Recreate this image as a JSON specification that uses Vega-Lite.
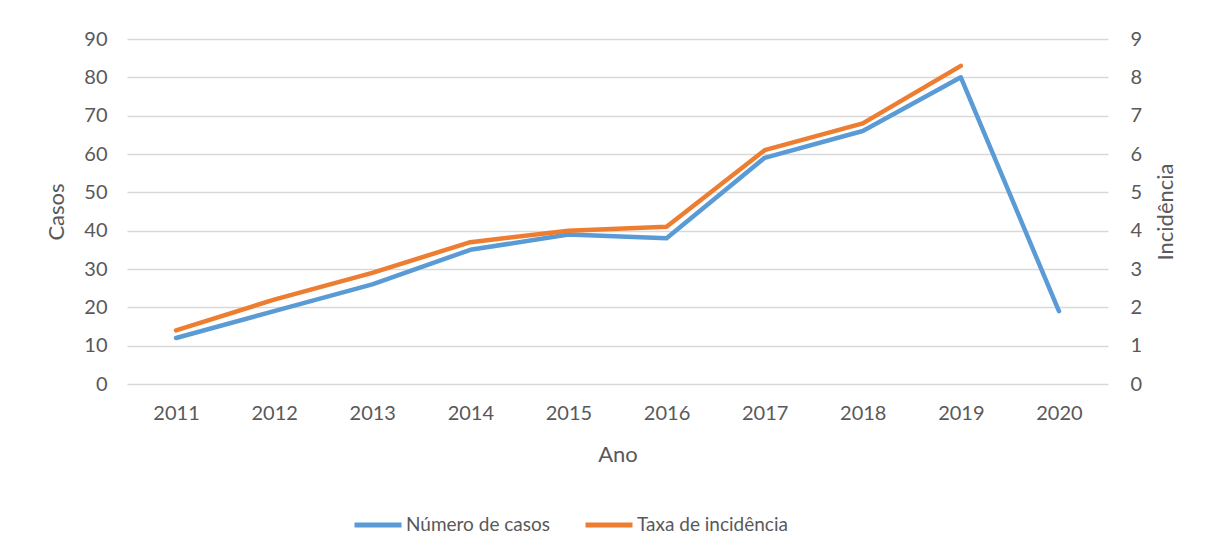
{
  "$schema": "https://vega.github.io/schema/vega-lite/v6.json",
  "width": 981,
  "height": 345,
  "autosize": "none",
  "padding": {"left": 127, "top": 39, "right": 97, "bottom": 173},
  "background": "white",
  "config": {
    "font": "Lato",
    "view": {"stroke": null},
    "axis": {"labelColor": "#595959", "titleColor": "#595959", "labelFont": "Lato", "titleFont": "Lato", "titleFontWeight": "normal"}
  },
  "data": {
    "values": [
      {"ano": "2011", "casos": 12, "taxa": 1.4},
      {"ano": "2012", "casos": 19, "taxa": 2.2},
      {"ano": "2013", "casos": 26, "taxa": 2.9},
      {"ano": "2014", "casos": 35, "taxa": 3.7},
      {"ano": "2015", "casos": 39, "taxa": 4.0},
      {"ano": "2016", "casos": 38, "taxa": 4.1},
      {"ano": "2017", "casos": 59, "taxa": 6.1},
      {"ano": "2018", "casos": 66, "taxa": 6.8},
      {"ano": "2019", "casos": 80, "taxa": 8.3},
      {"ano": "2020", "casos": 19, "taxa": null}
    ]
  },
  "encoding": {
    "x": {
      "field": "ano", "type": "ordinal", "title": "Ano",
      "scale": {"type": "point", "padding": 0.5},
      "axis": {"labelAngle": 0, "domain": false, "ticks": false, "grid": false, "labelFontSize": 20, "titleFontSize": 22, "labelPadding": 19, "titlePadding": 21}
    }
  },
  "layer": [
    {
      "mark": {"type": "line", "strokeWidth": 4.5, "strokeCap": "round", "strokeJoin": "round"},
      "encoding": {
        "y": {
          "field": "casos", "type": "quantitative", "title": "Casos",
          "scale": {"domain": [0, 90]},
          "axis": {"values": [0,10,20,30,40,50,60,70,80,90], "domain": false, "ticks": false, "gridColor": "#d9d9d9", "gridWidth": 1.4, "labelFontSize": 20, "titleFontSize": 22, "labelPadding": 20, "titlePadding": 15}
        },
        "color": {
          "datum": "Número de casos", "type": "nominal",
          "scale": {"domain": ["Número de casos", "Taxa de incidência"], "range": ["#5B9BD5", "#ED7D31"]},
          "legend": {"title": null, "orient": "none", "direction": "horizontal", "legendX": 225, "legendY": 460, "symbolType": "stroke", "symbolSize": 2209, "symbolStrokeWidth": 5, "labelFontSize": 19, "labelColor": "#595959", "labelFont": "Lato", "labelOffset": 2, "columnPadding": 24}
        }
      }
    },
    {
      "mark": {"type": "line", "strokeWidth": 4.5, "strokeCap": "round", "strokeJoin": "round"},
      "encoding": {
        "y": {
          "field": "taxa", "type": "quantitative", "title": "Incidência",
          "scale": {"domain": [0, 9]},
          "axis": {"orient": "right", "values": [0,1,2,3,4,5,6,7,8,9], "domain": false, "ticks": false, "grid": false, "labelFontSize": 20, "titleFontSize": 22, "titleAngle": 270, "titleBaseline": "top", "labelPadding": 22, "titlePadding": 14}
        },
        "color": {"datum": "Taxa de incidência", "type": "nominal"}
      }
    }
  ],
  "resolve": {"scale": {"y": "independent"}}
}
